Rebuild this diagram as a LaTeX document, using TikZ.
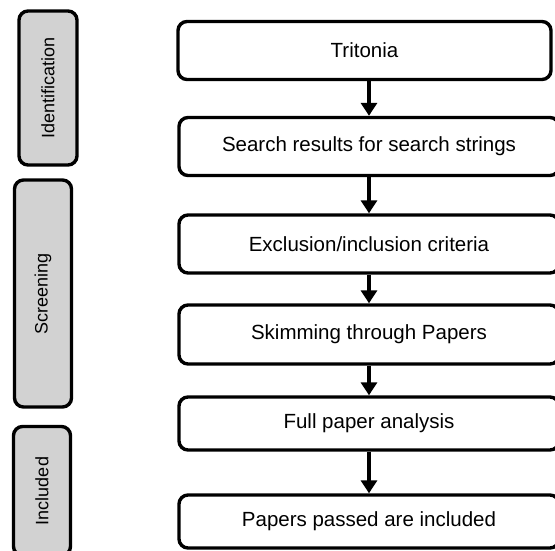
\documentclass[tikz,border=0pt]{standalone}
\usepackage{fontspec}
\setmainfont{Liberation Sans}
\usetikzlibrary{arrows.meta, positioning}
\definecolor{phasegrey}{RGB}{210,210,210}

\tikzset{
  stepbox/.style={draw, line width=3.4pt, rounded corners=9pt, inner sep=0pt,
    minimum width=380pt, font=\fontsize{20.5}{24}\selectfont},
  phasebox/.style={draw, fill=phasegrey, line width=3.4pt, rounded corners=9pt,
    inner sep=0pt, rotate=90, minimum height=57pt, font=\fontsize{18}{21}\selectfont},
  flow/.style={->, line width=3.4pt}
}

\begin{document}
\begin{tikzpicture}[x=1pt, y=-1pt, >={Triangle[width=16pt,length=13pt]}]
  \useasboundingbox (0,0) rectangle (555,551);
  \clip (0,0) rectangle (555,551);
  % Phases
  \node[phasebox, minimum width=154pt, minimum height=58pt] (ident) at (48,88) {Identification};
  \node[phasebox, minimum width=227pt] (screen) at (43,293.5) {Screening};
  \node[phasebox, minimum width=129pt] (incl) at (42,491) {Included};
  % Steps
  \node[stepbox, minimum width=373pt, minimum height=58pt] (tritonia) at (364.5,50.5) {Tritonia};
  \node[stepbox, minimum height=58pt] (search) at (369,146.5) {Search results for search strings};
  \node[stepbox, minimum height=58pt] (criteria) at (369,244) {Exclusion/inclusion criteria};
  \node[stepbox, minimum height=59pt] (skim) at (369,334.5) {Skimming through Papers};
  \node[stepbox, minimum height=53pt] (full) at (369,423.5) {Full paper analysis};
  \node[stepbox, minimum height=53pt] (passed) at (369,521.5) {Papers passed are included};
  % Arrows
  \draw[flow] (tritonia.south -| search.north) -- (search.north);
  \draw[flow] (search) -- (criteria);
  \draw[flow] (criteria) -- (skim);
  \draw[flow] (skim) -- (full);
  \draw[flow] (full) -- (passed);
\end{tikzpicture}
\end{document}
